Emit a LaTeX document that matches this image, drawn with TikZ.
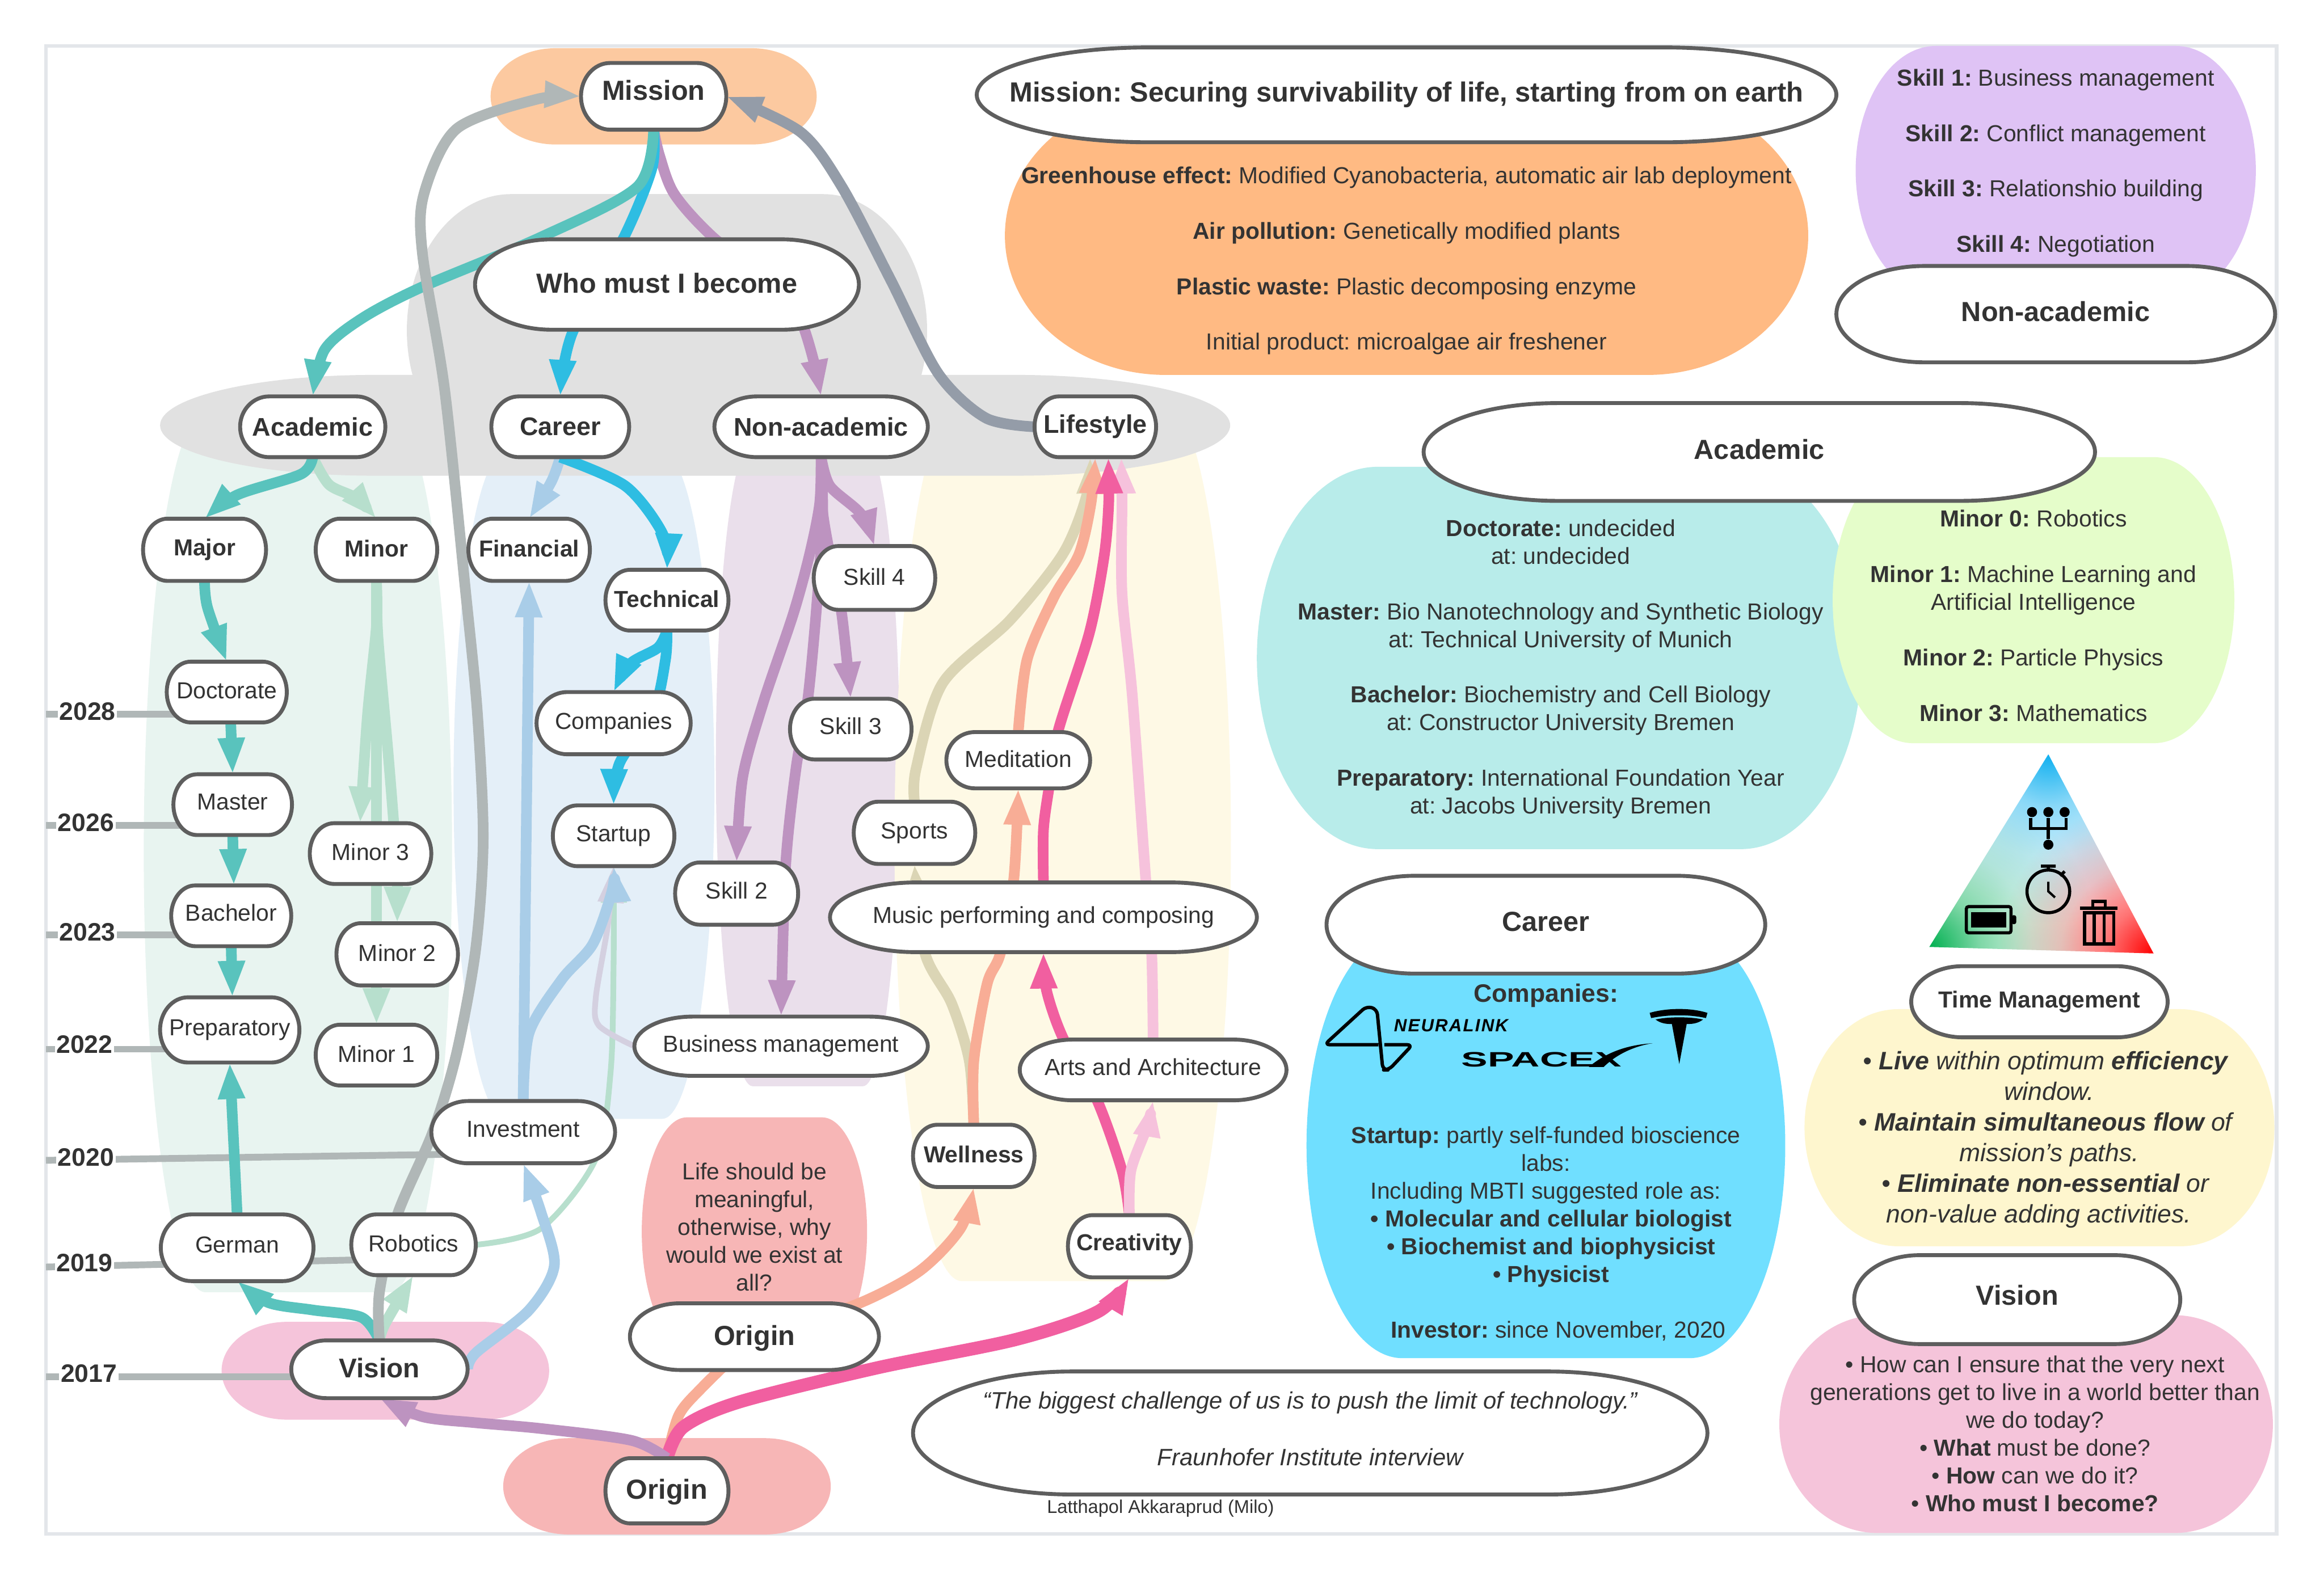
\documentclass[tikz,border=0pt]{standalone}
\usepackage{xcolor}
\usepackage{fontspec}
\usepackage{tikz}
\usetikzlibrary{arrows.meta, positioning}
\setmainfont{Liberation Sans}
\newfontfamily\logofont[LetterSpace=7]{Liberation Sans}
\frenchspacing

\definecolor{ink}{HTML}{333333}
\definecolor{edgegrey}{HTML}{5E5E5E}
\definecolor{framegrey}{HTML}{E3E6EA}
\definecolor{blobgreen}{HTML}{E8F4F0}
\definecolor{blobblue}{HTML}{E4EFF8}
\definecolor{blobpurple}{HTML}{EADFEB}
\definecolor{blobyellow}{HTML}{FEF9E5}
\definecolor{blobgrey}{HTML}{E1E1E1}
\definecolor{bloborange}{HTML}{FCC9A0}
\definecolor{panelorange}{HTML}{FFBA83}
\definecolor{panelpurple}{HTML}{DFC3F5}
\definecolor{panelteal}{HTML}{B8ECEA}
\definecolor{panellime}{HTML}{E5FDCA}
\definecolor{panelsky}{HTML}{70DFFF}
\definecolor{panelcream}{HTML}{FEF6CE}
\definecolor{blobpink}{HTML}{F5C4DA}
\definecolor{blobsalmon}{HTML}{F7B6B6}
\definecolor{linkteal}{HTML}{59C3BD}
\definecolor{linkmint}{HTML}{B7DFCD}
\definecolor{linkblue}{HTML}{2EBDE2}
\definecolor{linkpale}{HTML}{A9CDE8}
\definecolor{linkpurple}{HTML}{BD93C0}
\definecolor{linklilac}{HTML}{D4D0E0}
\definecolor{linkgrey}{HTML}{B0B7B7}
\definecolor{linkslate}{HTML}{949CA8}
\definecolor{linkbeige}{HTML}{DBD5B5}
\definecolor{linkorange}{HTML}{F8AD96}
\definecolor{linkmagenta}{HTML}{F15FA0}
\definecolor{linkrose}{HTML}{F6C2DC}

% Triangle corners
\definecolor{triblue}{HTML}{10B0F0}
\definecolor{trigreen}{HTML}{00B050}
\definecolor{trired}{HTML}{FF0000}
\pgfdeclareradialshading{fadeblue}{\pgfpointorigin}{color(0bp)=(triblue); color(7.5bp)=(triblue!50!white); color(15bp)=(triblue!22!white); color(22.5bp)=(triblue!4!white); color(25bp)=(white); color(50bp)=(white)}
\pgfdeclareradialshading{fadegreen}{\pgfpointorigin}{color(0bp)=(trigreen); color(7.5bp)=(trigreen!50!white); color(15bp)=(trigreen!20!white); color(22.5bp)=(trigreen!4!white); color(25bp)=(white); color(50bp)=(white)}
\pgfdeclareradialshading{fadered}{\pgfpointorigin}{color(0bp)=(trired); color(7.5bp)=(trired!55!white); color(15bp)=(trired!22!white); color(22.5bp)=(trired!4!white); color(25bp)=(white); color(50bp)=(white)}

\pgfdeclarelayer{blobs}
\pgfdeclarelayer{links}
\pgfsetlayers{blobs,links,main}

% rectangle with elliptical ends
\newdimen\termxa \newdimen\termxb \newdimen\termya \newdimen\termyb
\newdimen\termrx \newdimen\termry \newdimen\termkx \newdimen\termky
\makeatletter
\pgfdeclareshape{terminator}{
  \inheritsavedanchors[from=rectangle]
  \inheritanchorborder[from=rectangle]
  \inheritanchor[from=rectangle]{center}
  \inheritanchor[from=rectangle]{text}
  \inheritanchor[from=rectangle]{base}
  \inheritanchor[from=rectangle]{mid}
  \inheritanchor[from=rectangle]{north}
  \inheritanchor[from=rectangle]{south}
  \inheritanchor[from=rectangle]{east}
  \inheritanchor[from=rectangle]{west}
  \inheritanchor[from=rectangle]{north east}
  \inheritanchor[from=rectangle]{north west}
  \inheritanchor[from=rectangle]{south east}
  \inheritanchor[from=rectangle]{south west}
  \backgroundpath{
    \southwest \termxa=\pgf@x \termya=\pgf@y
    \northeast \termxb=\pgf@x \termyb=\pgf@y
    \termrx=\termxb \advance\termrx by-\termxa \termrx=.2\termrx
    \termry=\termyb \advance\termry by-\termya \termry=.5\termry
    \termkx=.4477\termrx \termky=.4477\termry
    \pgfpathmoveto{\pgfqpoint{\termxa}{\dimexpr\termya+\termry\relax}}
    \pgfpathcurveto{\pgfqpoint{\termxa}{\dimexpr\termyb-\termky\relax}}
      {\pgfqpoint{\dimexpr\termxa+\termkx\relax}{\termyb}}
      {\pgfqpoint{\dimexpr\termxa+\termrx\relax}{\termyb}}
    \pgfpathlineto{\pgfqpoint{\dimexpr\termxb-\termrx\relax}{\termyb}}
    \pgfpathcurveto{\pgfqpoint{\dimexpr\termxb-\termkx\relax}{\termyb}}
      {\pgfqpoint{\termxb}{\dimexpr\termyb-\termky\relax}}
      {\pgfqpoint{\termxb}{\dimexpr\termya+\termry\relax}}
    \pgfpathcurveto{\pgfqpoint{\termxb}{\dimexpr\termya+\termky\relax}}
      {\pgfqpoint{\dimexpr\termxb-\termkx\relax}{\termya}}
      {\pgfqpoint{\dimexpr\termxb-\termrx\relax}{\termya}}
    \pgfpathlineto{\pgfqpoint{\dimexpr\termxa+\termrx\relax}{\termya}}
    \pgfpathcurveto{\pgfqpoint{\dimexpr\termxa+\termkx\relax}{\termya}}
      {\pgfqpoint{\termxa}{\dimexpr\termya+\termky\relax}}
      {\pgfqpoint{\termxa}{\dimexpr\termya+\termry\relax}}
    \pgfpathclose
  }
}
\makeatother

\begin{document}
\begin{tikzpicture}[
    x=0.02cm, y=-0.02cm,
    sz/.style 2 args={minimum width=#1*0.02cm, minimum height=#2*0.02cm},
    lift/.style={text depth=#1pt},
    blob/.style={terminator, fill=#1, draw=none, inner sep=0pt, outer sep=0pt},
    box/.style={terminator, draw=edgegrey, line width=1.5pt, fill=white, text=ink, align=center, inner sep=0pt, outer sep=0pt, font=\fontsize{8.9}{10.7}\selectfont},
    boxb/.style={box, font=\fontsize{8.9}{10.7}\selectfont\bfseries},
    headm/.style={box, font=\fontsize{9.8}{11.7}\selectfont\bfseries},
    head/.style={box, font=\fontsize{10.6}{12.7}\selectfont\bfseries},
    panel/.style={text=ink, align=center, inner sep=0pt, font=\fontsize{8.9}{10.65}\selectfont},
    year/.style={text=ink, fill=white, inner sep=0.6pt, font=\fontsize{9.7}{11.6}\selectfont\bfseries},
    arrow/.style={-{Triangle[length=14pt,width=9.5pt]}, line width=4.1pt, line join=round},
    thinarrow/.style={arrow, line width=2.2pt},
    link/.style={line width=4.1pt, line join=round},
    timeline/.style={linkgrey, line width=2.6pt},
    logo/.style={fill=black, draw=none},
    icon/.style={draw=black, line width=1.2pt, fill=none}
]
    \useasboundingbox (0,0) rectangle (1568,1066.6);

    \begin{pgfonlayer}{blobs}
    \fill[white] (0,0) rectangle (1568,1066.6);
    \draw[framegrey, line width=1.4pt, fill=white] (31,31) rectangle (1536,1035);

    % Columns behind the paths
    \node[blob=blobgreen, sz={208}{594}] (acadcol) at (201,575) {};
    \node[blob=blobblue, sz={176}{450}] (careercol) at (394,530) {};
    \node[blob=blobpurple, sz={124}{436}] (noncol) at (545,515) {};
    \node[blob=blobyellow, sz={227}{595}] (lifecol) at (717,567) {};
    \node[blob=blobgrey, sz={351}{184}] (whocol) at (450,223) {};
    \node[blob=blobgrey, sz={722}{68}] (band) at (469,287) {};
    \node[blob=bloborange, sz={220}{65}] (missionblob) at (441,65) {};
    \node[blob=blobpink, sz={221}{66}] (visionblob) at (260,925) {};
    \node[blob=blobsalmon, sz={221}{65}] (originblob) at (450,1003) {};
    \node[blob=blobsalmon, sz={152}{154}] (lifeblob) at (509,831) {};

    % Panels on the right
    \node[blob=panelorange, sz={542}{188}] (missionpanel) at (949,159) {};
    \node[blob=panelpurple, sz={270}{168}] (skillpanel) at (1387,115) {};
    \node[blob=panelteal, sz={408}{258}] (acadpanel) at (1052,444) {};
    \node[blob=panellime, sz={271}{193}] (minorpanel) at (1372,405) {};
    \node[blob=panelsky, sz={323}{287}] (careerpanel) at (1043,773) {};
    \node[blob=panelcream, sz={317}{160}] (timepanel) at (1376,761) {};
    \node[blob=blobpink, sz={333}{147}] (visionpanel) at (1367,961) {};
    \end{pgfonlayer}

    % Top of the tree
    \node[head, sz={98}{45}, lift=4.6] (mission) at (441,65) {Mission};
    \node[head, sz={259}{61}, lift=1.1] (who) at (450,192) {Who must I become};
    \node[headm, sz={98}{41}] (academic) at (211,288) {Academic};
    \node[headm, sz={93}{41}] (career) at (378,288) {Career};
    \node[headm, sz={144}{41}] (nonacademic) at (554,288) {Non-academic};
    \node[headm, sz={82}{41}] (lifestyle) at (739,288) {Lifestyle};

    % Academic column
    \node[boxb, sz={83}{42}] (major) at (138,371) {Major};
    \node[boxb, sz={82}{42}, lift=1.1] (minor) at (254,371) {Minor};
    \node[box, sz={81}{41}, lift=1.1] (doctorate) at (153,467) {Doctorate};
    \node[box, sz={80}{41}, lift=2.3] (master) at (157,543) {Master};
    \node[box, sz={81}{41}, lift=2.3] (bachelor) at (156,618) {Bachelor};
    \node[box, sz={94}{44}] (preparatory) at (155,695) {Preparatory};
    \node[box, sz={82}{41}, lift=1.1] (minorthree) at (250,576) {Minor 3};
    \node[box, sz={82}{42}, lift=1.1] (minortwo) at (268,644) {Minor 2};
    \node[box, sz={82}{41}, lift=1.1] (minorone) at (254,712) {Minor 1};
    \node[box, sz={103}{45}, lift=2.4] (german) at (160,842) {German};
    \node[box, sz={84}{41}, lift=1.1] (robotics) at (279,840) {Robotics};
    \node[head, sz={119}{39}, font=\fontsize{10.4}{12.5}\selectfont\bfseries, lift=1.1] (vision) at (256,924) {Vision};

    % Career column
    \node[boxb, sz={82}{42}, lift=1.1] (financial) at (357,371) {Financial};
    \node[boxb, sz={83}{41}, lift=1.1] (technical) at (450,405) {Technical};
    \node[box, sz={104}{42}] (companies) at (414,488) {Companies};
    \node[box, sz={82}{41}] (startup) at (414,564) {Startup};
    \node[box, sz={124}{42}, lift=2.3] (investment) at (353,764) {Investment};

    % Non-academic column
    \node[box, sz={82}{43}, lift=1.1] (skillfour) at (590,390) {Skill 4};
    \node[box, sz={82}{41}, lift=2.3] (skillthree) at (574,492) {Skill 3};
    \node[box, sz={83}{42}, lift=2.3] (skilltwo) at (497,603) {Skill 2};
    \node[box, sz={198}{40}] (business) at (527,706) {Business management};

    % Lifestyle column
    \node[box, sz={97}{38}, lift=1.1] (meditation) at (687,513) {Meditation};
    \node[box, sz={82}{42}] (sports) at (617,562) {Sports};
    \node[box, sz={288}{47}] (music) at (704,619) {Music performing and composing};
    \node[box, sz={180}{41}, lift=2.3] (arts) at (778,722) {Arts and Architecture};
    \node[boxb, sz={82}{42}, lift=1.1] (wellness) at (657,780) {Wellness};
    \node[boxb, sz={83}{42}, lift=3] (creativity) at (762,841) {Creativity};

    % Origin
    \node[panel] (lifetext) at (509,828) {Life should be\\meaningful,\\otherwise, why\\would we exist at\\all?};
    \node[head, sz={168}{45}, lift=1.2] (originmid) at (509,902) {Origin};
    \node[head, sz={83}{44}, lift=1.2] (originlow) at (450,1006) {Origin};

    % Years
    \node[year] (y2028) at (59,480) {2028};
    \node[year] (y2026) at (58,555) {2026};
    \node[year] (y2023) at (59,629) {2023};
    \node[year] (y2022) at (57,705) {2022};
    \node[year] (y2020) at (58,781) {2020};
    \node[year] (y2019) at (57,852) {2019};
    \node[year] (y2017) at (60,927) {2017};
    \coordinate (t2028) at (31,482);
    \coordinate (t2026) at (31,557);
    \coordinate (t2023) at (31,631);
    \coordinate (t2022) at (31,708);
    \coordinate (t2020) at (31,783);
    \coordinate (t2019) at (31,855);
    \coordinate (t2017) at (31,929);
    \coordinate (e2020) at (300,779);
    \coordinate (e2019) at (250,850);

    \begin{pgfonlayer}{links}
    % Year lines
    \draw[timeline] (t2028) -- (t2028 -| doctorate.center);
    \draw[timeline] (t2026) -- (t2026 -| master.center);
    \draw[timeline] (t2023) -- (t2023 -| bachelor.center);
    \draw[timeline] (t2022) -- (t2022 -| preparatory.center);
    \draw[timeline] (t2020) -- (e2020);
    \draw[timeline] (t2019) -- (e2019);
    \draw[timeline] (t2017) -- (t2017 -| vision.center);

    % Down from the mission
    \draw[arrow, linkpurple] plot[smooth] coordinates {(mission.south) (445,105) (455,131) (481,160) (535,205) (nonacademic.north)};
    \draw[arrow, linkblue] plot[smooth] coordinates {(mission.south) (440,113) (422,158) (386,225) (career.north)};
    \draw[arrow, linkteal] plot[smooth] coordinates {(mission.south) (430,126) (365,160) (284,194) (244,215) (219,236) (academic.north)};

    % Academic
    \draw[arrow, linkmint] plot[smooth] coordinates {(academic.south) (222,327) (240,336) (minor.north)};
    \draw[arrow, linkteal] plot[smooth] coordinates {(academic.south) (203,320) (160,334) (major.north)};
    \draw[arrow, linkteal] plot[smooth] coordinates {(major.south) (140,410) (doctorate.north)};
    \draw[arrow, linkteal] ([xshift=1.5pt]doctorate.south) -- (master.north);
    \draw[arrow, linkteal] (master.south) -- ([xshift=1pt]bachelor.north);
    \draw[arrow, linkteal] (bachelor.south) -- ([xshift=1pt]preparatory.north);
    \draw[arrow, linkmint] (minor.south) -- (minorone.north);
    \draw[arrow, linkmint] plot[smooth] coordinates {(minor.south) (254,422) (248,482) ([xshift=-4pt]minorthree.north)};
    \draw[arrow, linkmint] plot[smooth] coordinates {(minor.south) (255,430) (262,510) (266,560) (268,590) (minortwo.north)};
    \draw[arrow, linkteal] (german.north) -- (preparatory.south);
    \draw[arrow, linkmint] plot[smooth] coordinates {(vision.north) (260,893) (robotics.south)};
    \draw[arrow, linkteal] plot[smooth] coordinates {(vision.north) (244,889) (211,884) (181,879) (german.south)};

    % Career
    \draw[thinarrow, linkmint] plot[smooth] coordinates {(robotics.east) (365,829) (402,782) (412,723) (414,650) (startup.south)};
    \draw[thinarrow, linklilac] plot[smooth] coordinates {(business.west) (404,692) (402,673) (410,625) (startup.south)};
    \draw[arrow, linkpale] plot[smooth] coordinates {(career.south) (372,325) (financial.north)};
    \draw[arrow, linkblue] plot[smooth] coordinates {(career.south) (422,328) (447,360) (technical.north)};
    \draw[arrow, linkblue] plot[smooth] coordinates {(technical.south) (444,437) (425,448) (companies.north)};
    \draw[arrow, linkblue] plot[smooth] coordinates {(technical.south) (449,445) (441,480) (418,515) (startup.north)};
    \draw[arrow, linkpale] (investment.north) -- (financial.south);
    \draw[arrow, linkpale] plot[smooth] coordinates {(investment.north) (357,697) (379,661) (400,637) (413,601) (startup.south)};
    \draw[arrow, linkpale] plot[smooth] coordinates {(vision.east) (321,913) (357,884) (374,854) (365,818) (investment.south)};

    % Non-academic
    \draw[arrow, linkpurple] plot[smooth] coordinates {(nonacademic.south) (560,328) (581,347) (skillfour.north)};
    \draw[arrow, linkpurple] plot[smooth] coordinates {(nonacademic.south) (555,345) (562,385) (568,415) (skillthree.north)};
    \draw[arrow, linkpurple] plot[smooth] coordinates {(nonacademic.south) (553,340) (546,375) (535,415) (515,474) (501,525) (skilltwo.north)};
    \draw[arrow, linkpurple] plot[smooth] coordinates {(nonacademic.south) (555,350) (551,409) (545,472) (537,519) (530,585) (business.north)};

    % Lifestyle
    \draw[arrow, linkbeige] plot[smooth] coordinates {(wellness.north) (654,716) (642,677) (624,643) (sports.south)};
    \draw[arrow, linkbeige] plot[smooth] coordinates {(sports.north) (618,519) (636,461) (681,419) (717,374) (733,335) ([xshift=-2pt]lifestyle.south)};
    \draw[arrow, linkorange] plot[smooth] coordinates {(wellness.north) (657,716) (666,664) (675,643) (684,593) (meditation.south)};
    \draw[arrow, linkorange] plot[smooth] coordinates {(meditation.north) (693,445) (711,403) (728,374) (736,340) (lifestyle.south)};
    \draw[arrow, linkrose] plot[smooth] coordinates {(arts.north) (777,643) (773,593) (764,470) (757,400) (757,340) ([xshift=10pt]lifestyle.south)};
    \draw[arrow, linkmagenta] plot[smooth] coordinates {(music.north) (704,560) (708,530) (714,493) (735,427) (745,375) (748,340) ([xshift=5pt]lifestyle.south)};
    \draw[arrow, linkmagenta] plot[smooth] coordinates {(creativity.north) (757,790) (740,742) (717,700) (706,668) (music.south)};
    \draw[arrow, linkrose] plot[smooth] coordinates {(creativity.north) (763,790) (774,760) (arts.south)};

    % Origin
    \draw[arrow, linkorange] plot[smooth] coordinates {(originmid) (576,881) (620,858) (648,829) (wellness.south)};
    \draw[link, linkorange] plot[smooth] coordinates {(originlow.north) (458,955) (474,936) (originmid)};
    \draw[arrow, linkmagenta, line width=5pt] plot[smooth] coordinates {(originlow.north) (461,963) (499,946) (592,923) (685,904) (741,885) (creativity.south)};
    \draw[arrow, linkpurple] plot[smooth] coordinates {(originlow.north) (426,972) (365,964) (320,960) (285,956) (vision.south)};

    % Back up to the mission
    \draw[arrow, linkgrey] plot[smooth] coordinates {(vision.north) (256,872) (268,820) (292,764) (308,711) (321,640) (326,566) (322,480) (314,398) (300,263) (285,171) (286,131) (308,87) (362,67) (mission.west)};
    \draw[arrow, linkslate] plot[smooth] coordinates {(lifestyle.west) (665,282) (633,252) (601,189) (568,126) (540,89) (mission.east)};
    \end{pgfonlayer}

    % Mission panel
    \node[head, sz={580}{64}, font=\fontsize{10.65}{12.7}\selectfont\bfseries] (missiontitle) at (949,64) {Mission: Securing survivability of life, starting from on earth};
    \node[panel] (missiontext) at (949,176) {\textbf{Greenhouse effect:} Modified Cyanobacteria, automatic air lab deployment\\[\baselineskip]
        \textbf{Air pollution:} Genetically modified plants\\[\baselineskip]
        \textbf{Plastic waste:} Plastic decomposing enzyme\\[\baselineskip]
        Initial product: microalgae air freshener};

    % Skills panel
    \node[panel] (skilltext) at (1387,110) {\textbf{Skill 1:} Business management\\[\baselineskip]
        \textbf{Skill 2:} Conflict management\\[\baselineskip]
        \textbf{Skill 3:} Relationshio building\\[\baselineskip]
        \textbf{Skill 4:} Negotiation};
    \node[head, sz={296}{65}, lift=2.3] (nontitle) at (1387,212) {Non-academic};

    % Academic panels
    \node[head, sz={453}{66}, lift=2.3] (acadtitle) at (1187,305) {Academic};
    \node[panel] (acadtext) at (1053,451.5) {\textbf{Doctorate:} undecided\\at: undecided\\[\baselineskip]
        \textbf{Master:} Bio Nanotechnology and Synthetic Biology\\at: Technical University of Munich\\[\baselineskip]
        \textbf{Bachelor:} Biochemistry and Cell Biology\\at: Constructor University Bremen\\[\baselineskip]
        \textbf{Preparatory:} International Foundation Year\\at: Jacobs University Bremen};
    \node[panel] (minortext) at (1372,415.5) {\textbf{Minor 0:} Robotics\\[\baselineskip]
        \textbf{Minor 1:} Machine Learning and\\Artificial Intelligence\\[\baselineskip]
        \textbf{Minor 2:} Particle Physics\\[\baselineskip]
        \textbf{Minor 3:} Mathematics};

    % Career panel
    \node[head, sz={296}{66}, lift=2.3] (careertitle) at (1043,624) {Career};
    \node[panel, font=\fontsize{9.7}{11.6}\selectfont\bfseries] (companytitle) at (1043,672) {Companies:};
    \node[panel] (careertext) at (1043,832.5) {\textbf{Startup:} partly self-funded bioscience\\labs:\\Including MBTI suggested role as:\\
        \hspace*{4pt}\textbf{• Molecular and cellular biologist}\\
        \hspace*{4pt}\textbf{• Biochemist and biophysicist}\\
        \hspace*{4pt}\textbf{• Physicist}\\[\baselineskip]
        \hspace*{9.5pt}\textbf{Investor:} since November, 2020};
    \node[text=black, font=\logofont\fontsize{6.8}{8}\selectfont\bfseries\itshape, inner sep=0pt] (neuralink) at (979,692) {NEURALINK};
    \node[text=black, font=\fontsize{8}{9}\selectfont\bfseries, inner sep=0pt] (spacex) at (1040,715) {\scalebox{1.9}[1]{SPACEX}};
    \draw[black, line width=1.3pt, line join=round, rounded corners=2pt] (930,705) -- (893.6,705) -- (922,679) -- (929,681) -- (933,722) -- (937,722) -- (953,705) -- (934,705);
    \path[logo] (1072,720) .. controls (1085,709) and (1100,705) .. (1115,704) .. controls (1102,706) and (1090,712) .. (1082,720) -- cycle;
    \path[logo] (1113,683.5) .. controls (1125,680) and (1141,680) .. (1152,683.5) -- (1151,687) .. controls (1140,684.5) and (1126,684.5) .. (1114,687) -- cycle;
    \path[logo] (1117,688) .. controls (1125,686) and (1141,686) .. (1149,688) .. controls (1145,691) and (1141,691) .. (1138,691) -- (1133,718) -- (1128,691) .. controls (1125,691) and (1121,691) .. cycle;

    % Time triangle
    \coordinate (tritop) at (1382,509);
    \coordinate (trileft) at (1301.7,639);
    \coordinate (triright) at (1453,643.4);
    \begin{scope}
        \clip (tritop) -- (trileft) -- (triright) -- cycle;
        \shade[shading=fadeblue] (tritop) circle (115);
        \shade[shading=fadegreen, blend mode=multiply] (trileft) circle (115);
        \shade[shading=fadered, blend mode=multiply] (triright) circle (105);
    \end{scope}
    % Tree icon
    \fill (1371,548) circle (3.4) (1382,548) circle (3.4) (1393,548) circle (3.4) (1382,570) circle (3.4);
    \draw[icon] (1370,552) -- (1370,559) -- (1394,559) -- (1394,552) (1382,552) -- (1382,566);
    % Stopwatch icon
    \draw[icon] (1382,601.5) circle (14.4);
    \draw[icon] (1377,584.5) -- (1387,584.5) (1382,584.5) -- (1382,587) (1390,591) -- (1393,588);
    \draw[icon, line width=0.9pt] (1382,595) -- (1382,601.5) -- (1386.5,605.6);
    % Battery icon
    \draw[icon, rounded corners=0.8pt] (1326.7,611.8) rectangle (1356.8,629.5);
    \fill (1330,615.4) rectangle (1353.6,626);
    \fill[rounded corners=0.8pt] (1357,617.6) rectangle (1360.4,623.6);
    % Bin icon
    \draw[icon] (1403.4,612.8) -- (1428.8,612.8);
    \draw[icon] (1412,612.8) -- (1412,608.2) -- (1420.4,608.2) -- (1420.4,612.8);
    \draw[icon] (1406.5,616) rectangle (1426.2,637);
    \draw[icon] (1413,616) -- (1413,637) (1419.7,616) -- (1419.7,637);

    % Time panel
    \node[boxb, sz={173}{48}] (timetitle) at (1376,676) {Time Management};
    \node[panel, font=\fontsize{9.7}{11.75}\selectfont\itshape] (timetext) at (1380,769) {• \textbf{Live} within optimum \textbf{efficiency}\\
        \hspace*{3pt}window.\\
        • \textbf{Maintain simultaneous flow} of\\
        \hspace*{3pt}mission's paths.\\
        • \textbf{Eliminate non-essential} or\\
        \hspace*{-5pt}non-value adding activities.};

    % Vision panel
    \node[head, sz={220}{60}, lift=3.4] (visiontitle) at (1361,877) {Vision};
    \node[panel] (visiontext) at (1373,967.5) {• How can I ensure that the very next\\
        generations get to live in a world better than\\
        we do today?\\
        • \textbf{What} must be done?\\
        • \textbf{How} can we do it?\\
        • \textbf{Who must I become?}};

    % Quote
    \node[box, sz={536}{83}] (quote) at (884,967) {};
    \node[panel, font=\fontsize{9.1}{10.9}\selectfont\itshape] (quotetext) at (884,964) {“The biggest challenge of us is to push the limit of technology.”\\[\baselineskip]Fraunhofer Institute interview};
    \node[panel, font=\fontsize{7.1}{8.5}\selectfont] (author) at (783,1018) {Latthapol Akkaraprud (Milo)};
\end{tikzpicture}
\end{document}
